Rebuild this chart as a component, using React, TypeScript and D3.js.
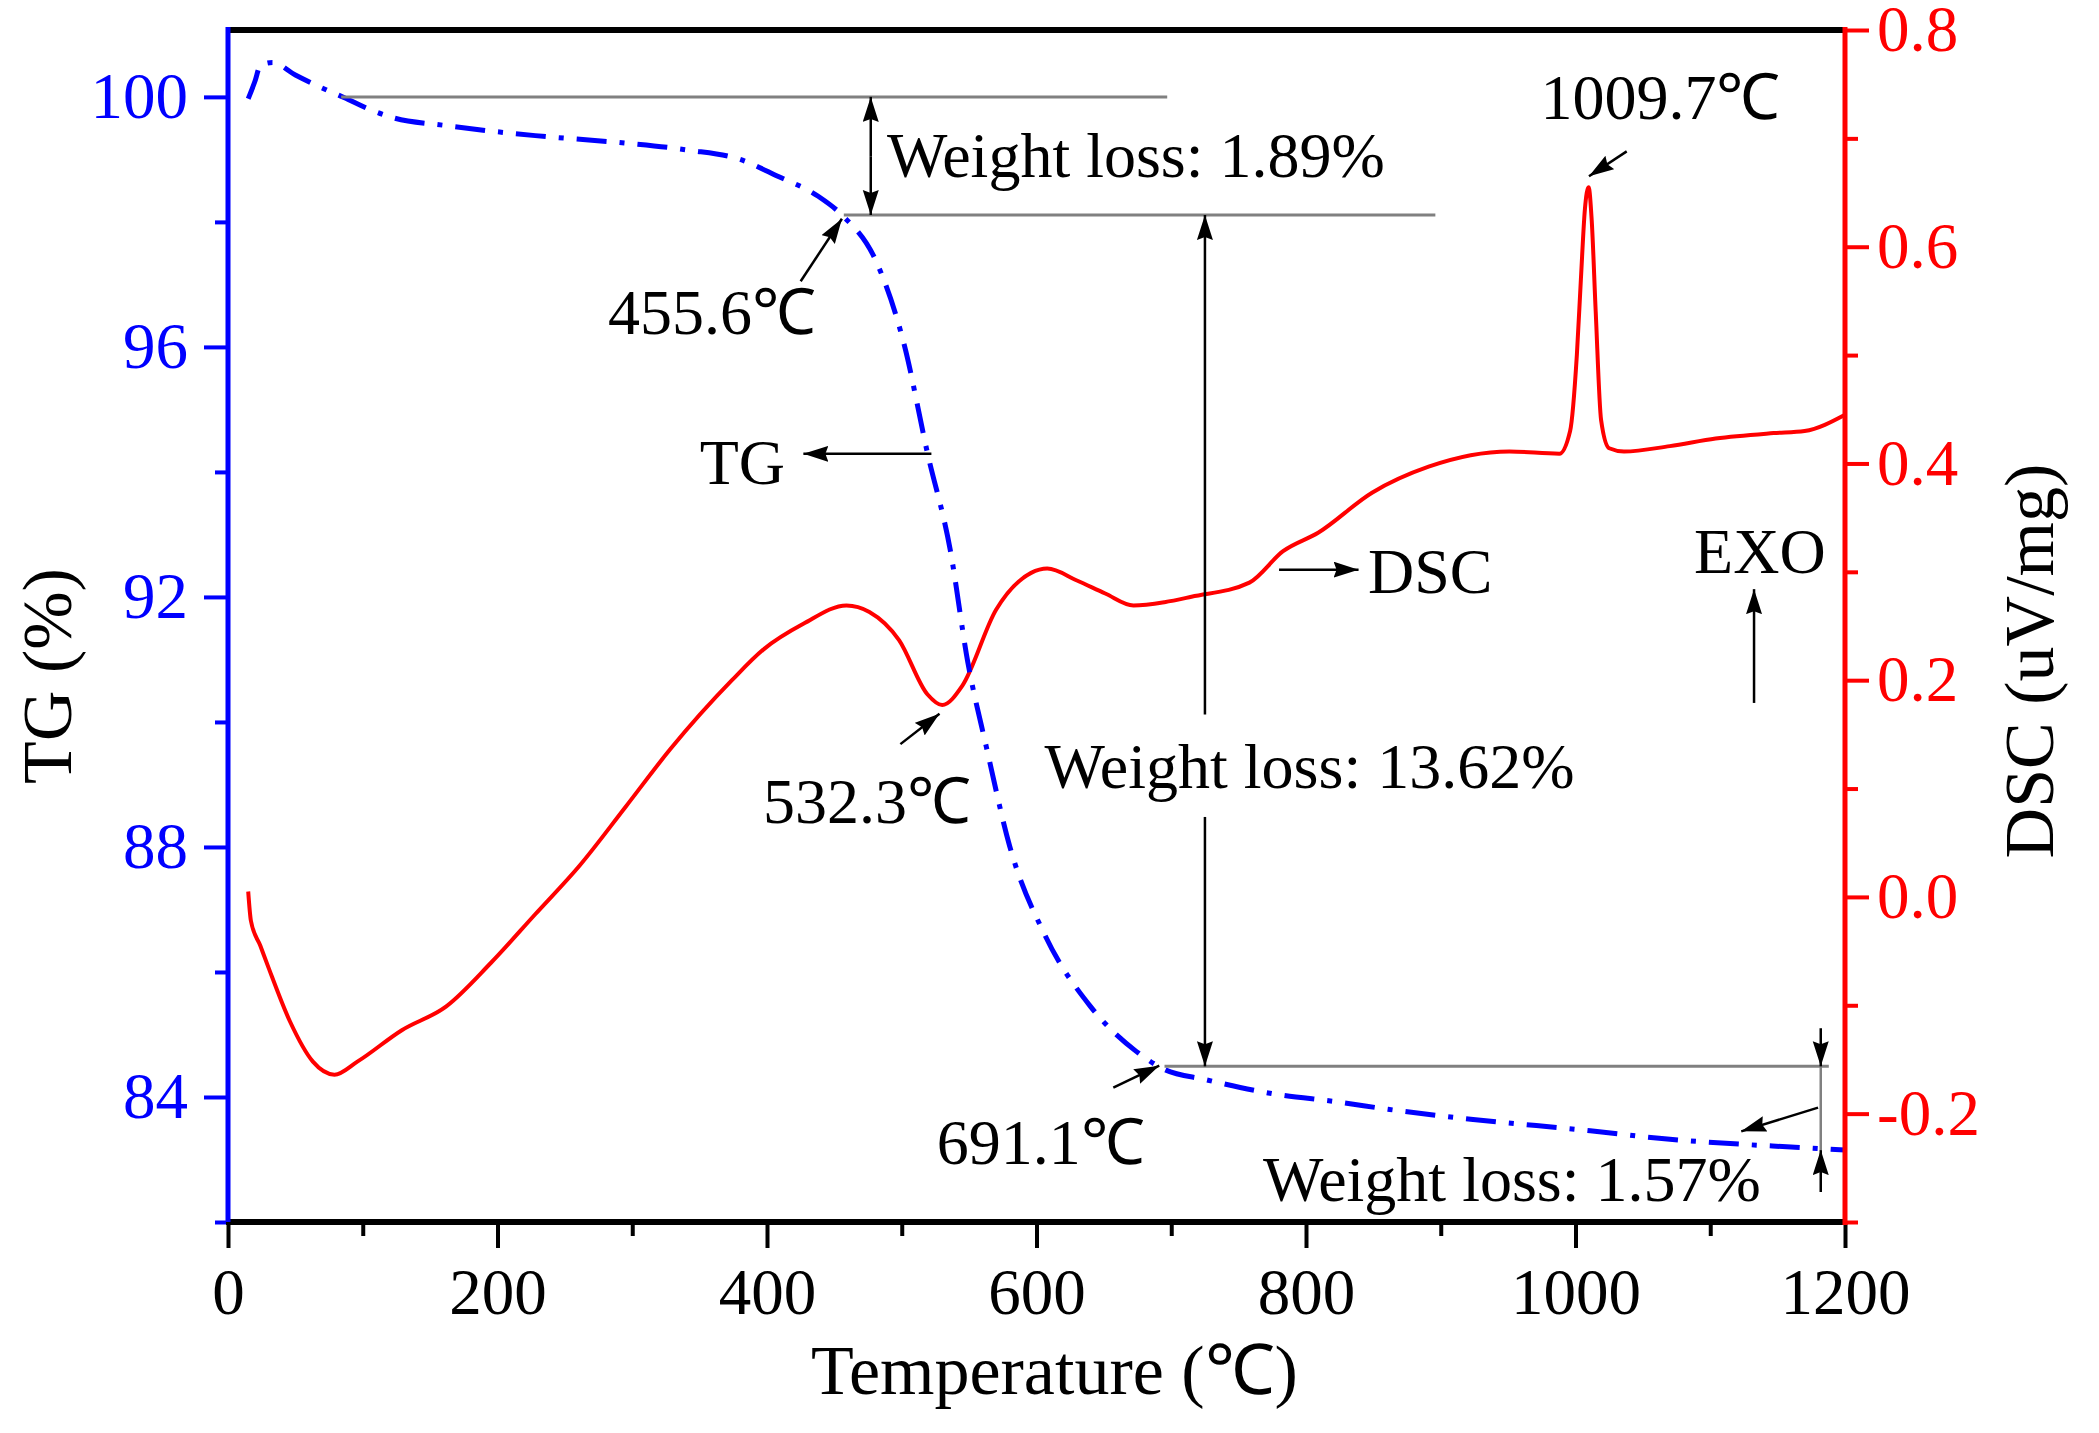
import React, { useEffect, useRef } from 'react';
import * as d3 from 'd3';

// TG curve (temperature in C, mass %)
const tgTemp = [15, 20, 24, 33, 50, 69, 86, 105, 122, 162, 228, 290, 341, 380, 408, 438, 455.6, 481, 502, 519, 536, 549, 563, 580, 606, 640, 674, 695, 725, 776, 824, 862, 924, 1011, 1062, 1126, 1160, 1200];
const tgVal = [99.97, 100.25, 100.5, 100.55, 100.35, 100.15, 99.99, 99.8, 99.67, 99.54, 99.38, 99.27, 99.15, 99.0, 98.73, 98.41, 98.11, 97.37, 96.02, 94.31, 92.75, 90.96, 89.58, 88.02, 86.6, 85.45, 84.73, 84.44, 84.28, 84.05, 83.92, 83.8, 83.64, 83.46, 83.34, 83.24, 83.2, 83.15];

// DSC curve (temperature in C, uV/mg)
const dscTemp = [15, 17, 24, 30, 46, 63, 79, 96, 129, 162, 195, 228, 261, 295, 328, 374, 397, 427, 459, 476, 498, 519, 530, 545, 570, 596, 608, 630, 651, 672, 695, 715, 758, 783, 809, 849, 891, 951, 988, 996, 1001, 1004, 1007, 1009.7, 1012, 1015, 1019, 1025, 1036, 1070, 1104, 1147, 1170, 1200];
const dscVal = [0.005, -0.022, -0.045, -0.065, -0.115, -0.152, -0.164, -0.152, -0.123, -0.101, -0.061, -0.016, 0.029, 0.083, 0.136, 0.2, 0.228, 0.252, 0.269, 0.263, 0.237, 0.187, 0.177, 0.195, 0.265, 0.299, 0.303, 0.292, 0.28, 0.269, 0.272, 0.277, 0.29, 0.319, 0.336, 0.373, 0.397, 0.411, 0.409, 0.43, 0.5, 0.57, 0.635, 0.655, 0.625, 0.54, 0.44, 0.414, 0.411, 0.416, 0.423, 0.428, 0.43, 0.445];

// axis ticks
const xTicks = [0, 200, 400, 600, 800, 1000, 1200];
const xMinor = [100, 300, 500, 700, 900, 1100];
const tgTicks = [84, 88, 92, 96, 100];
const tgMinor = [82, 86, 90, 94, 98];
const dscTicks = [-0.2, 0.0, 0.2, 0.4, 0.6, 0.8];
const dscMinor = [-0.3, -0.1, 0.1, 0.3, 0.5, 0.7];

// reference levels of the weight-loss steps (TG %)
const grayLines = [
  { t0: 84, t1: 697, tg: 100 },
  { t0: 457, t1: 896, tg: 98.11 },
  { t0: 695, t1: 1188, tg: 84.49 },
];

// annotation labels: position in data units, axis = which y scale
const labels = [
  { text: 'Weight loss: 1.89%', t: 489, v: 98.72, axis: 'tg' },
  { text: '455.6℃', t: 282, v: 96.2, axis: 'tg' },
  { text: 'TG', t: 350, v: 93.81, axis: 'tg' },
  { text: 'Weight loss: 13.62%', t: 606, v: 88.95, axis: 'tg' },
  { text: '691.1℃', t: 526, v: 82.93, axis: 'tg' },
  { text: 'Weight loss: 1.57%', t: 768, v: 82.33, axis: 'tg' },
  { text: '532.3℃', t: 397, v: 0.068, axis: 'dsc' },
  { text: 'DSC', t: 846, v: 0.28, axis: 'dsc' },
  { text: 'EXO', t: 1088, v: 0.299, axis: 'dsc' },
  { text: '1009.7℃', t: 974, v: 0.718, axis: 'dsc' },
];

// arrows: from -> to (head at "to")
const arrows = [
  { t0: 477, v0: 99.05, t1: 477, v1: 100, axis: 'tg' },
  { t0: 477, v0: 99.05, t1: 477, v1: 98.11, axis: 'tg' },
  { t0: 425, v0: 97.05, t1: 455.6, v1: 98.05, axis: 'tg' },
  { t0: 522, v0: 94.29, t1: 427, v1: 94.29, axis: 'tg' },
  { t0: 725, v0: 90.12, t1: 725, v1: 98.11, axis: 'tg' },
  { t0: 725, v0: 88.48, t1: 725, v1: 84.49, axis: 'tg' },
  { t0: 657, v0: 84.15, t1: 691.1, v1: 84.5, axis: 'tg' },
  { t0: 1182, v0: 85.1, t1: 1182, v1: 84.49, axis: 'tg' },
  { t0: 1182, v0: 82.48, t1: 1182, v1: 83.15, axis: 'tg' },
  { t0: 1180, v0: 83.83, t1: 1123, v1: 83.45, axis: 'tg' },
  { t0: 499, v0: 0.141, t1: 528, v1: 0.169, axis: 'dsc' },
  { t0: 780, v0: 0.302, t1: 839, v1: 0.302, axis: 'dsc' },
  { t0: 1132.5, v0: 0.179, t1: 1132.5, v1: 0.284, axis: 'dsc' },
  { t0: 1038, v0: 0.688, t1: 1010, v1: 0.665, axis: 'dsc' },
];

// thin gray connector between the two 1.57% arrows
const connectors = [{ t: 1182, v0: 84.49, v1: 83.15 }];

const App: React.FC = () => {
  const svgRef = useRef<SVGSVGElement>(null);
  const width = 2099;
  const height = 1433;

  useEffect(() => {
    if (!svgRef.current) return;
    const svg = d3.select(svgRef.current);
    svg.selectAll('*').remove();

    const margin = { top: 30, right: 254, bottom: 211, left: 228 };
    const iW = width - margin.left - margin.right;
    const iH = height - margin.top - margin.bottom;
    const font = '"Liberation Serif", "Times New Roman", serif';
    const blue = '#0000ff';
    const red = '#ff0000';

    const x = d3.scaleLinear().domain([0, 1200]).range([0, iW]);
    const yTG = d3.scaleLinear().domain([82, 101.07]).range([iH, 0]);
    const yDSC = d3.scaleLinear().domain([-0.3, 0.8]).range([iH, 0]);
    const yOf = (axis: string) => (axis === 'tg' ? yTG : yDSC);

    svg.append('defs').append('marker')
      .attr('id', 'head').attr('markerUnits', 'userSpaceOnUse')
      .attr('markerWidth', 28).attr('markerHeight', 18)
      .attr('refX', 25).attr('refY', 8).attr('orient', 'auto')
      .append('path').attr('d', 'M0,0 L25,8 L0,16 L3,8 Z').attr('fill', '#000');

    const g = svg.append('g').attr('transform', `translate(${margin.left},${margin.top})`);

    // curves
    const dscLine = d3.line<number>().x((d, i) => x(dscTemp[i])).y(d => yDSC(d)).curve(d3.curveMonotoneX);
    g.append('path').datum(dscVal).attr('fill', 'none').attr('stroke', red).attr('stroke-width', 4).attr('d', dscLine);

    const tgLine = d3.line<number>().x((d, i) => x(tgTemp[i])).y(d => yTG(d)).curve(d3.curveMonotoneX);
    g.append('path').datum(tgVal).attr('fill', 'none').attr('stroke', blue).attr('stroke-width', 5)
      .attr('stroke-dasharray', '30,13,5,13').attr('d', tgLine);

    // gray reference lines
    g.selectAll('line.ref').data(grayLines).enter().append('line').attr('class', 'ref')
      .attr('x1', d => x(d.t0)).attr('x2', d => x(d.t1)).attr('y1', d => yTG(d.tg)).attr('y2', d => yTG(d.tg))
      .attr('stroke', '#808080').attr('stroke-width', 3);
    g.selectAll('line.conn').data(connectors).enter().append('line').attr('class', 'conn')
      .attr('x1', d => x(d.t)).attr('x2', d => x(d.t)).attr('y1', d => yTG(d.v0)).attr('y2', d => yTG(d.v1))
      .attr('stroke', '#808080').attr('stroke-width', 2.5);

    // arrows
    g.selectAll('line.arrow').data(arrows).enter().append('line').attr('class', 'arrow')
      .attr('x1', d => x(d.t0)).attr('y1', d => yOf(d.axis)(d.v0))
      .attr('x2', d => x(d.t1)).attr('y2', d => yOf(d.axis)(d.v1))
      .attr('stroke', '#000').attr('stroke-width', 2.5).attr('marker-end', 'url(#head)');

    // labels
    g.selectAll('text.lab').data(labels).enter().append('text').attr('class', 'lab')
      .attr('x', d => x(d.t)).attr('y', d => yOf(d.axis)(d.v))
      .attr('fill', '#000').style('font-family', font).style('font-size', '64px').text(d => d.text);

    // axes
    const styleAxis = (sel: any, color: string, fs: number) => {
      sel.select('.domain').remove();
      sel.selectAll('.tick line').attr('stroke', color).attr('stroke-width', 4);
      sel.selectAll('.tick text').attr('fill', color).style('font-family', font).style('font-size', `${fs}px`);
    };

    const xa = g.append('g').attr('transform', `translate(0,${iH})`)
      .call(d3.axisBottom(x).tickValues(xTicks).tickSize(26).tickPadding(20).tickFormat(d3.format('d')));
    styleAxis(xa, '#000', 65);
    const xm = g.append('g').attr('transform', `translate(0,${iH})`)
      .call(d3.axisBottom(x).tickValues(xMinor).tickSize(14).tickFormat(() => ''));
    styleAxis(xm, '#000', 65);

    const la = g.append('g').call(d3.axisLeft(yTG).tickValues(tgTicks).tickSize(24).tickPadding(16).tickFormat(d3.format('d')));
    styleAxis(la, blue, 65);
    const lm = g.append('g').call(d3.axisLeft(yTG).tickValues(tgMinor).tickSize(13).tickFormat(() => ''));
    styleAxis(lm, blue, 65);

    const ra = g.append('g').attr('transform', `translate(${iW},0)`)
      .call(d3.axisRight(yDSC).tickValues(dscTicks).tickSize(24).tickPadding(8).tickFormat(d3.format('.1f')));
    styleAxis(ra, red, 65);
    ra.selectAll('.tick text').text((d: any) => d3.format('.1f')(d).replace('\u2212', '-'));
    const rm = g.append('g').attr('transform', `translate(${iW},0)`)
      .call(d3.axisRight(yDSC).tickValues(dscMinor).tickSize(13).tickFormat(() => ''));
    styleAxis(rm, red, 65);

    // frame
    g.append('line').attr('x1', 0).attr('x2', iW).attr('y1', 0).attr('y2', 0).attr('stroke', '#000').attr('stroke-width', 6);
    g.append('line').attr('x1', -2).attr('x2', iW + 2).attr('y1', iH).attr('y2', iH).attr('stroke', '#000').attr('stroke-width', 6);
    g.append('line').attr('x1', 0).attr('x2', 0).attr('y1', -3).attr('y2', iH).attr('stroke', blue).attr('stroke-width', 5);
    g.append('line').attr('x1', iW).attr('x2', iW).attr('y1', -3).attr('y2', iH + 3).attr('stroke', red).attr('stroke-width', 5);

    // axis titles
    g.append('text').attr('x', iW / 2 + 18).attr('y', iH + 172).attr('text-anchor', 'middle')
      .attr('fill', '#000').style('font-family', font).style('font-size', '70px').text('Temperature (℃)');
    g.append('text').attr('transform', `translate(${-157},${iH / 2 + 50}) rotate(-90)`).attr('text-anchor', 'middle')
      .attr('fill', '#000').style('font-family', font).style('font-size', '70px').text('TG (%)');
    g.append('text').attr('transform', `translate(${iW + 208},${iH / 2 + 35}) rotate(-90)`).attr('text-anchor', 'middle')
      .attr('fill', '#000').style('font-family', font).style('font-size', '70px').text('DSC (uV/mg)');
  }, []);

  return (
    <svg
      ref={svgRef}
      width={width}
      height={height}
      viewBox={`0 0 ${width} ${height}`}
      style={{ position: 'absolute', left: 0, top: 0, background: '#fff' }}
    />
  );
};

export default App;
